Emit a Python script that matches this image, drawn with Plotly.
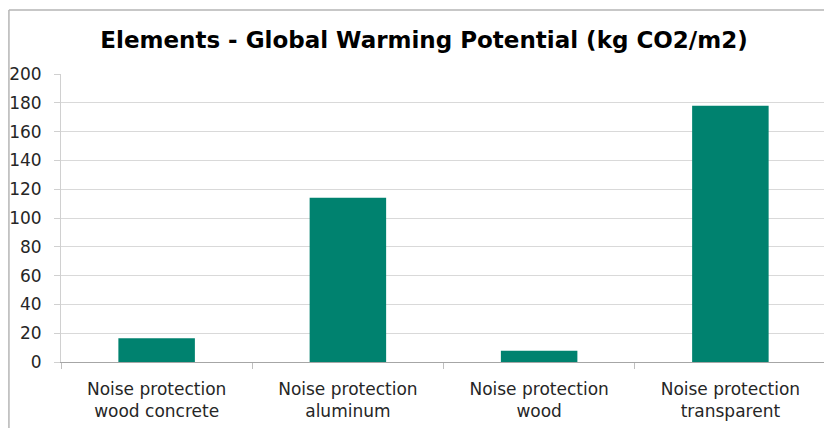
import plotly.graph_objects as go

categories = ["Noise protection<br>wood concrete", "Noise protection<br>aluminum",
              "Noise protection<br>wood", "Noise protection<br>transparent"]
values = [16.5, 114, 7.8, 178]
y_ticks = [0, 20, 40, 60, 80, 100, 120, 140, 160, 180, 200]

W, H = 832, 428
OFF = 8  # page body margin offset
L, R = 60.6 - OFF, 14
T, B = 74 - OFF, H - (362 - OFF)
pw, ph = W - L - R, H - T - B

fig = go.Figure(go.Bar(
    x=categories, y=values, marker_color="#00826F",
    marker_line_width=0, width=0.4,
))

def px_x(px):
    return (px - OFF - L) / pw

def px_y(py):
    return (H - B - (py - OFF)) / ph

fig.update_layout(
    width=W, height=H,
    margin=dict(l=L, r=R, t=T, b=B, autoexpand=False),
    paper_bgcolor="white", plot_bgcolor="white",
    showlegend=False,
    title=dict(text="<b>Elements - Global Warming Potential (kg CO2/m2)</b>",
               x=(424 - OFF) / W, xanchor="center", y=1 - (40 - OFF) / H, yanchor="middle",
               font=dict(family="DejaVu Sans", size=23, color="black")),
    font=dict(family="DejaVu Sans", size=17, color="#262626"),
    bargap=0.6,
    shapes=[
        dict(type="line", xref="paper", yref="paper",
             x0=px_x(8.5), x1=px_x(8.5), y0=px_y(450), y1=px_y(10),
             line=dict(color="#b5b5b5", width=1.5)),
        dict(type="line", xref="paper", yref="paper",
             x0=px_x(8.5), x1=px_x(860), y0=px_y(10), y1=px_y(10),
             line=dict(color="#b5b5b5", width=1.5)),
    ],
)
fig.update_xaxes(
    type="category", tickson="boundaries", ticks="outside", ticklen=6,
    tickcolor="#bfbfbf", showline=True, linecolor="#a6a6a6", linewidth=1.2,
    showgrid=False, ticklabelstandoff=11,
)
fig.update_yaxes(
    range=[0, 200], tickvals=y_ticks, ticks="outside", ticklen=6,
    tickcolor="#d0d0d0", showgrid=True, gridcolor="#d9d9d9", gridwidth=1,
    showline=True, linecolor="#d0d0d0", zeroline=False, ticklabelstandoff=9,
)

fig.write_html("out.html")
